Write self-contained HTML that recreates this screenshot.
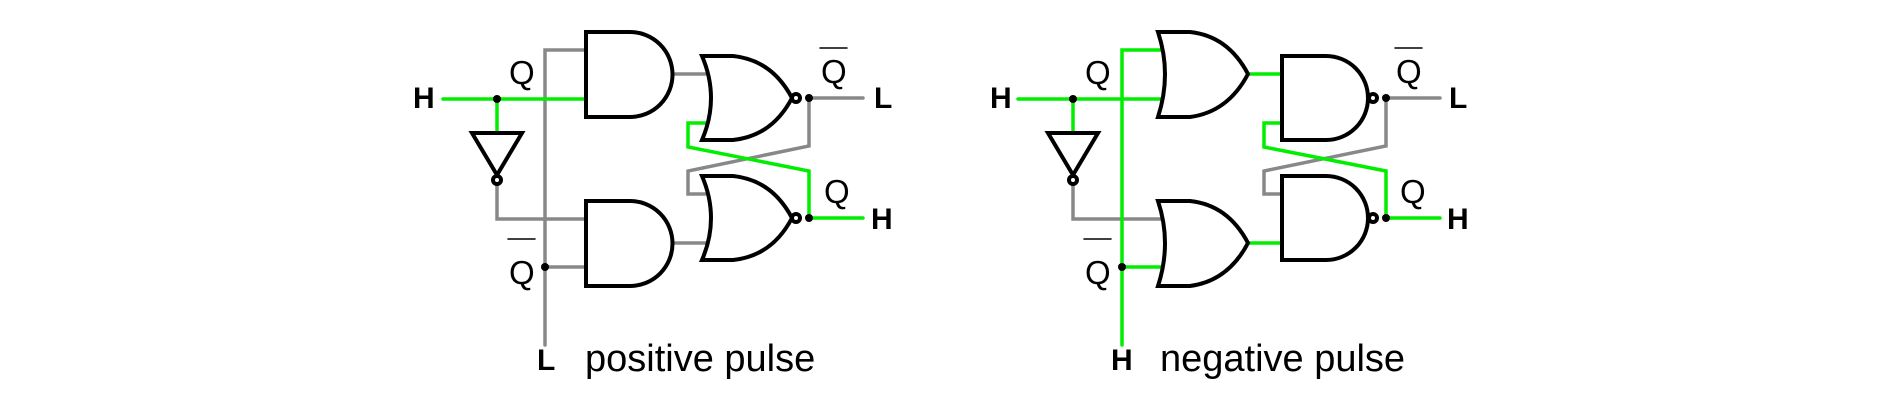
<!DOCTYPE html>
<html><head><meta charset="utf-8"><style>
html,body{margin:0;padding:0;background:#fff;}
svg{display:block}
text{font-family:"Liberation Sans",sans-serif;}
</style></head><body>
<svg width="1884" height="411" viewBox="0 0 1884 411" xmlns="http://www.w3.org/2000/svg">
<g fill="none" stroke-width="3.5" stroke-linecap="round" stroke-linejoin="miter">
<g stroke="#888">
<polyline points="586,50 545,50 545,345"/>
<line x1="545" y1="267" x2="586" y2="267"/>
<polyline points="497,184 497,219 586,219"/>
<line x1="672" y1="74" x2="705" y2="74"/>
<line x1="672" y1="243" x2="705" y2="243"/>
<line x1="809" y1="98" x2="863" y2="98"/>
<polyline points="809,98 809,146 688,171 688,194 705,194"/>
</g>
<g stroke="#00ee00">
<line x1="443" y1="99" x2="586" y2="99"/>
<line x1="497" y1="99" x2="497" y2="133"/>
<polyline points="705,123 688,123 688,147 809,171 809,218"/>
<line x1="809" y1="218" x2="863" y2="218"/>
</g>
<g stroke="#888">
<polyline points="1073,184 1073,219 1162,219"/>
<line x1="1386" y1="98" x2="1440" y2="98"/>
<polyline points="1386,98 1386,146 1264,171 1264,194 1282,194"/>
</g>
<g stroke="#00ee00">
<line x1="1018" y1="99" x2="1164" y2="99"/>
<line x1="1073" y1="99" x2="1073" y2="133"/>
<polyline points="1164,50 1122,50 1122,345"/>
<line x1="1122" y1="267" x2="1164" y2="267"/>
<line x1="1248" y1="74" x2="1282" y2="74"/>
<line x1="1248" y1="243" x2="1282" y2="243"/>
<polyline points="1282,123 1264,123 1264,147 1386,171 1386,218"/>
<line x1="1386" y1="218" x2="1440" y2="218"/>
</g>
<g stroke="#000" stroke-width="4" fill="#fff">
<path d="M586,32 L630,32 A42.5,42.5 0 0 1 630,117 L586,117 Z"/>
<path d="M586,201 L630,201 A42.5,42.5 0 0 1 630,286 L586,286 Z"/>
<path d="M702,56 L733,56 Q772,60 792,98 Q772,136 733,140 L702,140 Q720,98 702,56 Z"/>
<path d="M702,176 L733,176 Q772,180 792,218 Q772,256 733,260 L702,260 Q720,218 702,176 Z"/>
<circle cx="796" cy="98" r="4"/>
<circle cx="796" cy="218" r="4"/>
<path d="M472,133 L522,133 L497,175 Z"/>
<circle cx="497" cy="180" r="4"/>
<path d="M1158,32 L1190,32 Q1228,36 1248,74 Q1228,112 1190,117 L1158,117 Q1172,74 1158,32 Z"/>
<path d="M1158,201 L1190,201 Q1228,205 1248,243 Q1228,281 1190,286 L1158,286 Q1172,243 1158,201 Z"/>
<path d="M1282,56 L1326,56 A42,42 0 0 1 1326,140 L1282,140 Z"/>
<path d="M1282,176 L1326,176 A42,42 0 0 1 1326,260 L1282,260 Z"/>
<circle cx="1373" cy="98" r="4"/>
<circle cx="1373" cy="218" r="4"/>
<path d="M1048,133 L1098,133 L1073,175 Z"/>
<circle cx="1073" cy="180" r="4"/>
</g>
<g stroke="#000" stroke-width="1.5">
<line x1="508" y1="239" x2="535" y2="239"/>
<line x1="820" y1="48" x2="847" y2="48"/>
<line x1="1084" y1="239" x2="1111" y2="239"/>
<line x1="1395" y1="48" x2="1422" y2="48"/>
</g>
</g>
<g fill="#000">
<circle cx="497" cy="99" r="4"/>
<circle cx="545" cy="267" r="4"/>
<circle cx="809" cy="98" r="4"/>
<circle cx="809" cy="218" r="4"/>
<circle cx="1073" cy="99" r="4"/>
<circle cx="1122" cy="267" r="4"/>
<circle cx="1386" cy="98" r="4"/>
<circle cx="1386" cy="218" r="4"/>
</g>
<g font-size="33" fill="#000">
<text x="509" y="84">Q</text>
<text x="509" y="284">Q</text>
<text x="821" y="83">Q</text>
<text x="824" y="203">Q</text>
<text x="1085" y="84">Q</text>
<text x="1085" y="284">Q</text>
<text x="1396" y="83">Q</text>
<text x="1400" y="203">Q</text>
</g>
<g font-size="30" font-weight="bold" fill="#000">
<text x="413" y="108">H</text>
<text x="874" y="108">L</text>
<text x="871" y="229">H</text>
<text x="537" y="370">L</text>
<text x="990" y="108">H</text>
<text x="1449" y="108">L</text>
<text x="1447" y="229">H</text>
<text x="1111" y="370">H</text>
</g>
<g font-size="38" fill="#000">
<text x="585" y="371">positive pulse</text>
<text x="1160" y="371">negative pulse</text>
</g>
</svg>
</body></html>
